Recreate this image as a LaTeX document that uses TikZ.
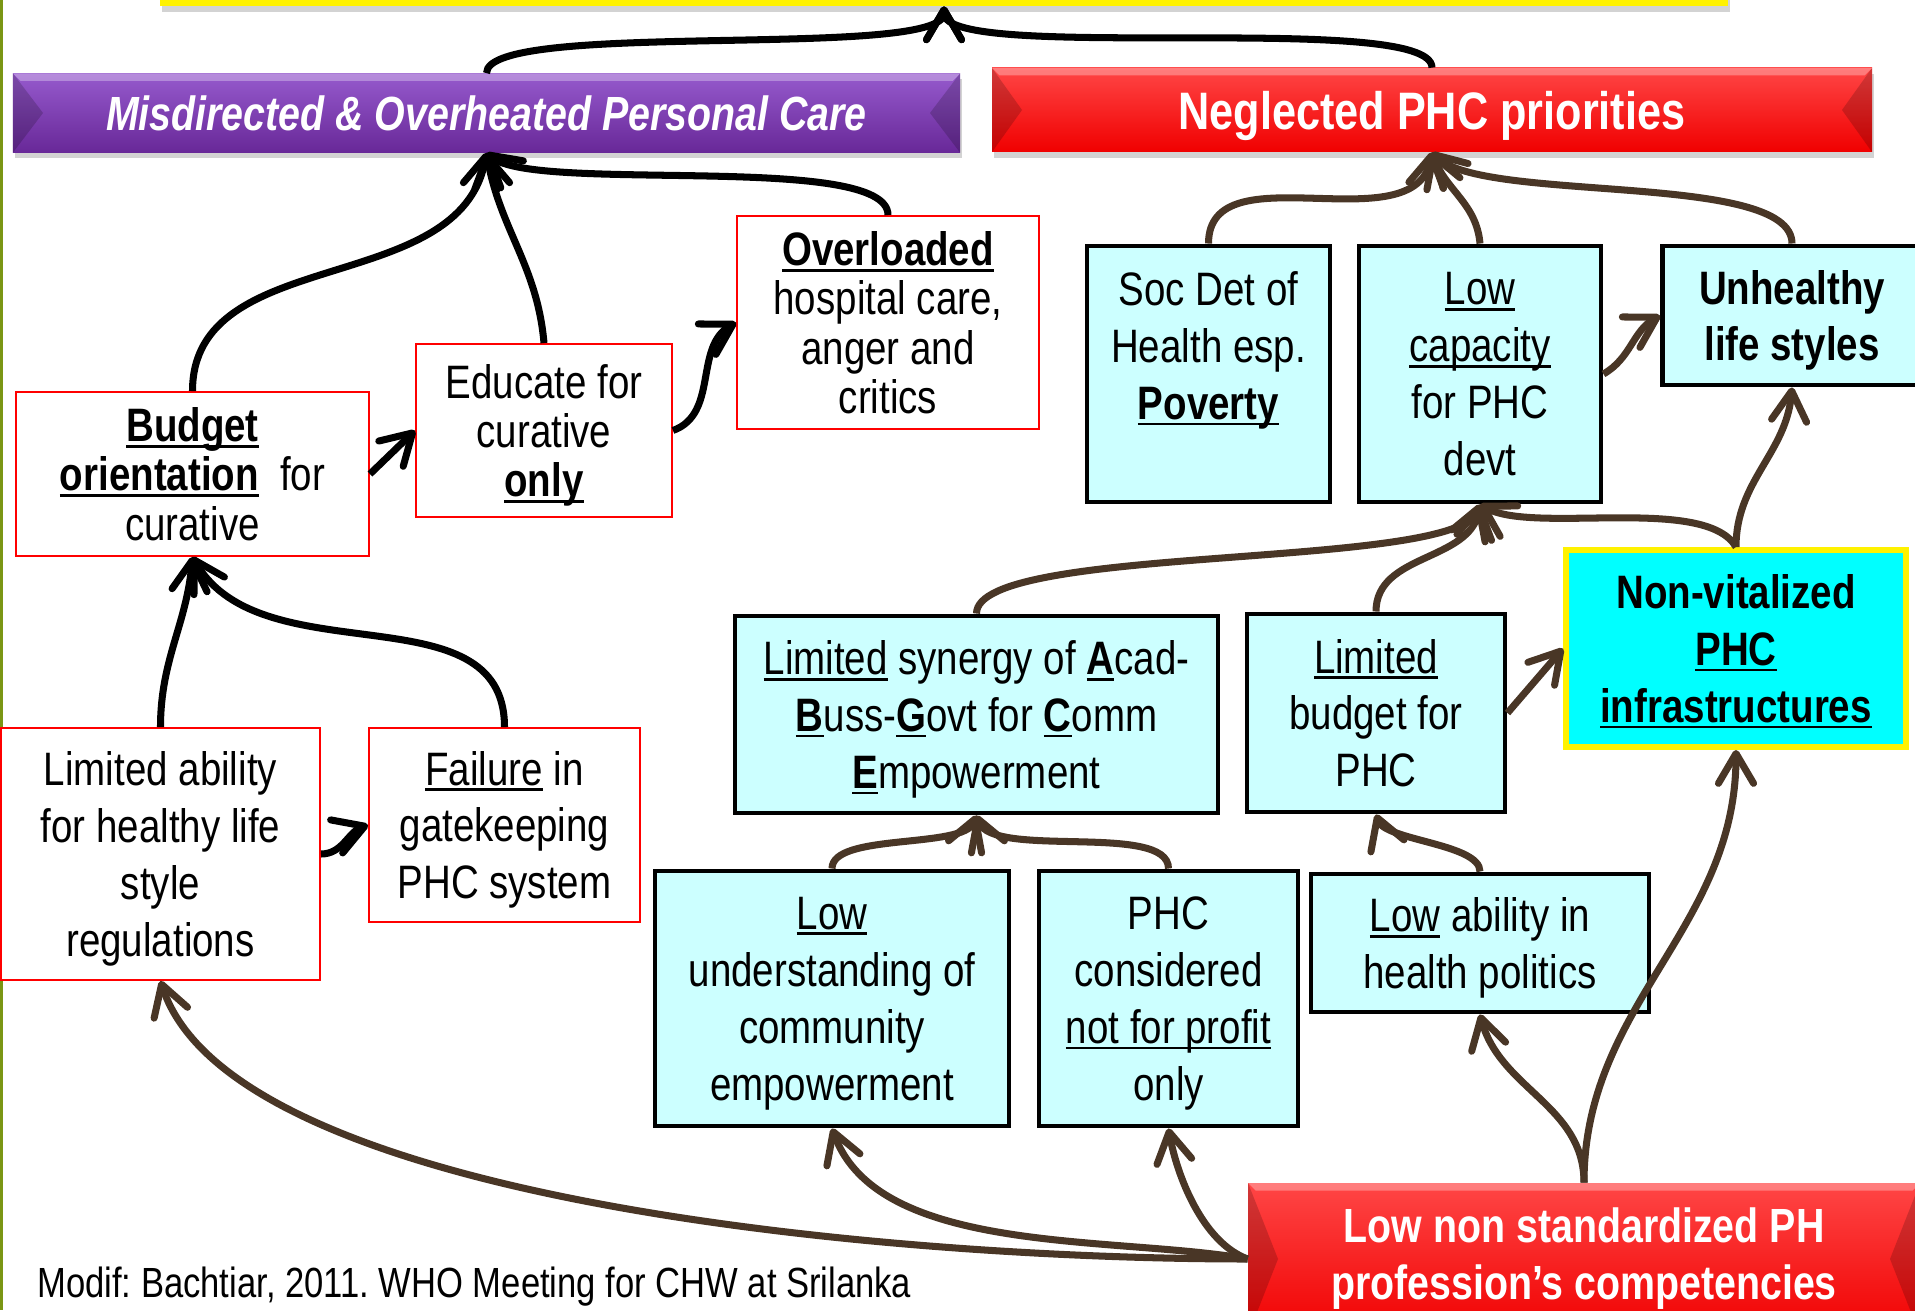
\documentclass[tikz,border=0pt]{standalone}
\usepackage{fontspec}
\setmainfont{Liberation Sans}[FakeStretch=0.82]
\usetikzlibrary{arrows.meta,shadows}
\definecolor{lineBrown}{RGB}{73,54,38}
\definecolor{boxCyan}{RGB}{204,255,255}
\definecolor{boxAqua}{RGB}{0,255,255}
\definecolor{purpleTop}{RGB}{150,90,205}
\definecolor{purpleBot}{RGB}{104,40,152}
\definecolor{redTop}{RGB}{255,70,70}
\definecolor{redBot}{RGB}{240,0,0}
\definecolor{edgeGreen}{RGB}{122,150,20}
% underline at a fixed depth
\newcommand{\uln}[1]{\setbox0\hbox{#1}\leavevmode\rlap{\rule[-3.4pt]{\wd0}{1.6pt}}\box0\relax}
\frenchspacing

\begin{document}
\begin{tikzpicture}[
  txt/.style={align=center, inner sep=0pt, text depth=0pt, font=\fontsize{26.7}{32.4}\selectfont},
  redbox/.style={txt, draw=red, line width=1.1pt, fill=white},
  tight/.style={font=\fontsize{26.7}{28}\selectfont},
  cyanbox/.style={txt, draw=black, line width=2.8pt, fill=boxCyan},
  bevel/.style={path picture={
    \fill[black,opacity=.18] (path picture bounding box.north west) -- ([xshift=.6cm]path picture bounding box.west) -- (path picture bounding box.south west) -- cycle;
    \fill[black,opacity=.18] (path picture bounding box.north east) -- ([xshift=-.6cm]path picture bounding box.east) -- (path picture bounding box.south east) -- cycle;
    \fill[white,opacity=.3] (path picture bounding box.north west) -- (path picture bounding box.north east) -- ([shift={(-.15,-.15)}]path picture bounding box.north east) -- ([shift={(.15,-.15)}]path picture bounding box.north west) -- cycle;}},
  purplebar/.style={bevel, top color=purpleTop, bottom color=purpleBot, text=white, inner sep=0pt,
    drop shadow={opacity=.35,shadow xshift=.04cm,shadow yshift=-.12cm}, font=\fontsize{27.3}{32}\selectfont\bfseries\itshape},
  redbar/.style={bevel, top color=redTop, bottom color=redBot, text=white, align=center, inner sep=0pt,
    drop shadow={opacity=.35,shadow xshift=.04cm,shadow yshift=-.12cm}, font=\fontsize{27.3}{32.4}\selectfont\bfseries},
  blk/.style={line width=4pt, -{Straight Barb[length=17pt,width=20pt,round]}},
  brn/.style={blk, lineBrown}]
\useasboundingbox (0,0) rectangle (38.3,26.2);
\fill[edgeGreen] (0,0) rectangle (0.05,26.2);

\path (18.88,26.54) node(goal)[fill=yellow, minimum width=31.36cm, minimum height=0.92cm,
        drop shadow={opacity=.35,shadow xshift=.04cm,shadow yshift=-.12cm}]{}
  (9.73,23.94) node(mis)[purplebar, minimum width=18.94cm, minimum height=1.58cm]{Misdirected \& Overheated Personal Care}
  (28.64,24.0) node(neg)[redbar, font=\fontsize{30}{36}\selectfont\bfseries, text depth=0pt, minimum width=17.6cm, minimum height=1.68cm]{Neglected PHC priorities};

% curative side
\path (3.85,16.72) node(budget)[redbox, tight, minimum width=7.06cm, minimum height=3.28cm]{\textbf{\uln{Budget}}\\\textbf{\uln{orientation}}~ for\\curative}
  (10.88,17.59) node(educate)[redbox, tight, minimum width=5.12cm, minimum height=3.46cm]{Educate for\\curative\\\textbf{\uln{only}}}
  (17.76,19.75) node(overload)[redbox, tight, minimum width=6.04cm, minimum height=4.26cm]{\textbf{\uln{Overloaded}}\\hospital care,\\anger and\\critics}
  (3.21,9.12) node(limability)[redbox, minimum width=6.38cm, minimum height=5.04cm]{Limited ability\\for healthy life\\style\\regulations}
  (10.09,9.70) node(failure)[redbox, minimum width=5.42cm, minimum height=3.88cm]{\uln{Failure} in\\gatekeeping\\PHC system};

% PHC side
\path (24.17,18.72) node(socdet)[cyanbox, minimum width=4.86cm, minimum height=5.12cm]{Soc Det of\\Health esp.\\\textbf{\uln{Poverty}}\\~}
  (29.6,18.72) node(lowcap)[cyanbox, minimum width=4.84cm, minimum height=5.12cm]{\uln{Low}\\\uln{capacity}\\for PHC\\devt}
  (35.84,19.89) node(unhealthy)[cyanbox, font=\fontsize{26.7}{32.4}\selectfont\bfseries, minimum width=5.18cm, minimum height=2.78cm]{Unhealthy\\life styles}
  (34.72,13.23) node(nonvit)[cyanbox, draw=yellow, fill=boxAqua, line width=3.4pt, font=\fontsize{26.7}{32.4}\selectfont\bfseries,
        minimum width=6.8cm, minimum height=3.94cm]{Non-vitalized\\\uln{PHC}\\\uln{infrastructures}}
  (19.53,11.91) node(synergy)[cyanbox, minimum width=9.66cm, minimum height=3.94cm]{\uln{Limited} synergy of \textbf{\uln{A}}cad-\\\textbf{\uln{B}}uss-\textbf{\uln{G}}ovt for \textbf{\uln{C}}omm\\\textbf{\uln{E}}mpowerment}
  (27.52,11.94) node(limbudget)[cyanbox, minimum width=5.16cm, minimum height=3.96cm]{\uln{Limited}\\budget for\\PHC}
  (16.64,6.23) node(lowunder)[cyanbox, minimum width=7.08cm, minimum height=5.1cm]{\uln{Low}\\understanding of\\community\\empowerment}
  (23.37,6.23) node(phcnot)[cyanbox, minimum width=5.18cm, minimum height=5.1cm]{PHC\\considered\\\uln{not for profit}\\only}
  (29.6,7.34) node(lowability)[cyanbox, minimum width=6.76cm, minimum height=2.76cm]{\uln{Low} ability in\\health politics}
  (31.68,1.02) node(lowstd)[redbar, minimum width=13.44cm, minimum height=3.04cm]{Low non standardized PH\\profession’s competencies};

\path (0.74,0.46) node(credit)[anchor=west, inner sep=0pt, font=\fontsize{24}{28}\selectfont]{Modif: Bachtiar, 2011. WHO Meeting for CHW at Srilanka};

% black links
\draw[blk] (mis.north) to[out=90,in=-90,looseness=0.3] (goal.south);
\draw[blk] (neg.north) to[out=90,in=-90,looseness=0.3] (goal.south);
\draw[blk] (budget.north) to[out=90,in=-100] (mis.south);
\draw[blk] (educate.north) to[out=95,in=-80] (mis.south);
\draw[blk] (overload.north) to[out=90,in=-40,looseness=0.4] (mis.south);
\draw[blk] (budget.east) -- (educate.west);
\draw[blk] (educate.east) to[out=20,in=210] (overload.west);
\draw[blk] (limability.north) to[out=90,in=-95] (budget.south);
\draw[blk] (failure.north) to[out=90,in=-60] (budget.south);
\draw[blk] (limability.east) to[out=0,in=200] (failure.west);

% brown links
\draw[brn] (socdet.north) to[out=90,in=-100] (neg.south);
\draw[brn] (lowcap.north) to[out=95,in=-70] (neg.south);
\draw[brn] (unhealthy.north) to[out=90,in=-45,looseness=0.5] (neg.south);
\draw[brn] (lowcap.east) to[out=30,in=210] (unhealthy.west);
\draw[brn] (synergy.north) to[out=90,in=-110,looseness=0.35] (lowcap.south);
\draw[brn] (limbudget.north) to[out=90,in=-100] (lowcap.south);
\draw[brn] (nonvit.north) to[out=120,in=-30,looseness=0.6] (lowcap.south);
\draw[brn] (nonvit.north) to[out=90,in=-95] (unhealthy.south);
\draw[brn] (limbudget.east) -- (nonvit.west);
\draw[brn] (lowunder.north) to[out=90,in=-110,looseness=0.6] (synergy.south);
\draw[brn] (phcnot.north) to[out=90,in=-70,looseness=0.6] (synergy.south);
\draw[brn] (lowability.north) to[out=90,in=-70,looseness=0.6] (limbudget.south);
\draw[brn] (lowstd.west) to[out=180,in=-72,out looseness=0.8,in looseness=0.53] (limability.south);
\draw[brn] (lowstd.west) to[out=170,in=-70,looseness=0.8] (lowunder.south);
\draw[brn] (lowstd.west) to[out=160,in=-80,looseness=0.8] (phcnot.south);
\draw[brn] (lowstd.north) to[out=90,in=-75] (lowability.south);
\draw[brn] (lowstd.north) to[out=90,in=-90] (nonvit.south);
\end{tikzpicture}
\end{document}
